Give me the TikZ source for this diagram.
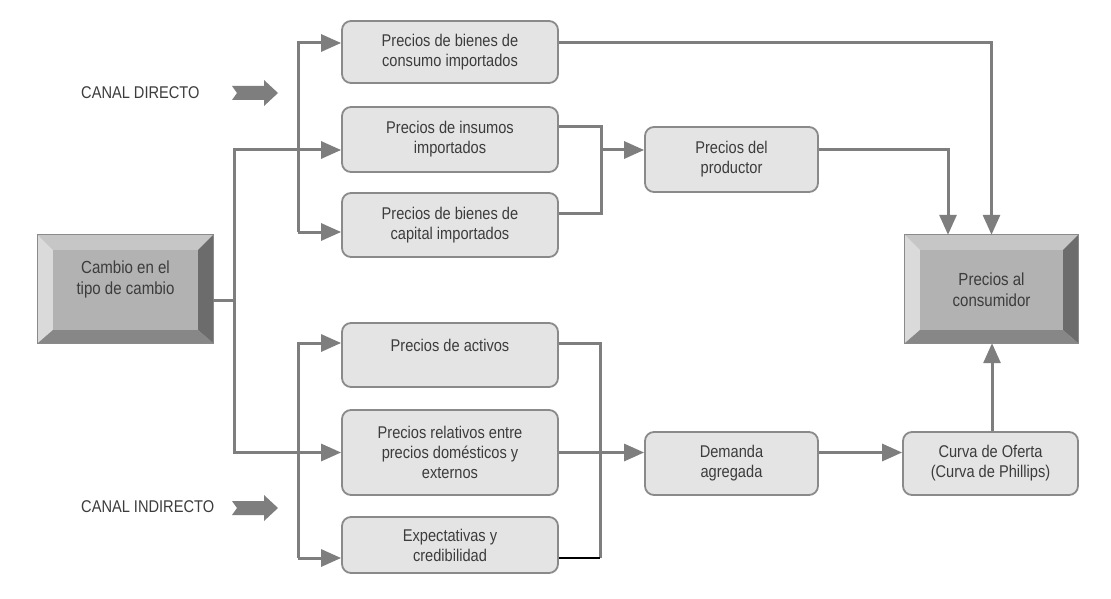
\documentclass[tikz,border=0pt]{standalone}
\usepackage{fontspec}
\setmainfont{Liberation Sans}[FakeStretch=0.86]
\usetikzlibrary{arrows.meta,calc}
\definecolor{lineg}{HTML}{7E7E7E}
\definecolor{boxfill}{HTML}{E4E4E4}
\definecolor{boxline}{HTML}{8A8A8A}
\definecolor{txt}{HTML}{3C3C3C}
\definecolor{bface}{HTML}{B2B2B2}
\definecolor{btop}{HTML}{C6C6C6}
\definecolor{bleft}{HTML}{DADADA}
\definecolor{bright}{HTML}{6C6C6C}
\definecolor{bbottom}{HTML}{878787}
\newcommand\bevelframe[1]{%
  \fill[btop] (#1.north west) -- (#1.north east) -- ($(#1.north east)+(-15,15)$) -- ($(#1.north west)+(15,15)$) -- cycle;
  \fill[bleft] (#1.north west) -- ($(#1.north west)+(15,15)$) -- ($(#1.south west)+(15,-13)$) -- (#1.south west) -- cycle;
  \fill[bright] (#1.north east) -- (#1.south east) -- ($(#1.south east)+(-15,-13)$) -- ($(#1.north east)+(-15,15)$) -- cycle;
  \fill[bbottom] (#1.south west) -- (#1.south east) -- ($(#1.south east)+(-15,-13)$) -- ($(#1.south west)+(15,-13)$) -- cycle;
  \draw[boxline,line width=0.8pt] (#1.north west) rectangle (#1.south east);
}
\newcommand\fatarrow[1]{%
  \fill[lineg] ($(#1)+(0,-7)$) -- ++(32,0) -- ++(0,-6) -- ++(14,13) -- ++(-14,13) -- ++(0,-6) -- ++(-32,0) -- ++(5,-7) -- cycle;
}
\begin{document}
\begin{tikzpicture}[x=1pt,y=-1pt,
  >={Triangle[length=20pt,width=17pt]},
  rbox/.style={draw=boxline,fill=boxfill,rounded corners=9pt,line width=1.8pt,
    align=center,text=txt,font=\fontsize{17}{20}\selectfont,inner sep=0pt},
  bbox/.style={fill=bface,align=center,text=txt,font=\fontsize{17.5}{21}\selectfont,
    inner sep=0pt,minimum width=175pt,minimum height=108pt},
  conn/.style={draw=lineg,line width=3pt},
  lbl/.style={text=txt,font=\fontsize{17}{20}\selectfont,inner sep=0pt}]
\useasboundingbox[fill=white] (0,0) rectangle (1111,599);

% beveled boxes
\node[bbox] (cambio) at (125.5,289) {};
\bevelframe{cambio}
\node[bbox,fill=none,minimum width=0pt,minimum height=0pt] (cambiot) at (125.5,279) {Cambio en el\\tipo de cambio};
\node[bbox,minimum width=173pt] (cons) at (991.5,289) {};
\bevelframe{cons}
\node[bbox,fill=none,minimum width=0pt,minimum height=0pt] (const) at (991.5,290) {Precios al\\consumidor};

% rounded boxes
\node[rbox,minimum width=216pt,minimum height=62pt] (b1) at (450,52) {Precios de bienes de\\consumo importados};
\node[rbox,minimum width=216pt,minimum height=65pt] (b2) at (450,139.5) {Precios de insumos\\importados};
\node[rbox,minimum width=216pt,minimum height=64pt] (b3) at (450,225) {Precios de bienes de\\capital importados};
\node[rbox,minimum width=173pt,minimum height=65pt] (prod) at (731.5,159.5) {Precios del\\productor};
\node[rbox,minimum width=216pt,minimum height=64pt] (b4) at (450,355) {Precios de activos\\\mbox{}};
\node[rbox,minimum width=216pt,minimum height=85pt] (b5) at (450,452.5) {Precios relativos entre\\precios domésticos y\\externos};
\node[rbox,minimum width=216pt,minimum height=56pt] (b6) at (450,545) {Expectativas y\\credibilidad};
\node[rbox,minimum width=173pt,minimum height=63pt] (dem) at (731.5,463.5) {Demanda\\agregada};
\node[rbox,minimum width=175pt,minimum height=63pt] (curva) at (990.5,463.5) {Curva de Oferta\\(Curva de Phillips)};

% channel labels
\node[lbl,anchor=west] (cd) at (81,93) {CANAL DIRECTO};
\coordinate (cda) at (232,93);
\fatarrow{cda}
\node[lbl,anchor=west] (ci) at (81,507) {CANAL INDIRECTO};
\coordinate (cia) at (232,508);
\fatarrow{cia}

% coordinates
\coordinate (busD) at (298,0);
\coordinate (busS) at (234,0);
\coordinate (mx) at (601,0);
\coordinate (mx2) at (600,0);
\coordinate (b1in) at ($(b1.west)+(0,-9)$);
\coordinate (b1out) at ($(b1.east)+(0,-9)$);
\coordinate (b2in) at ($(b2.west)+(0,10.5)$);
\coordinate (b2out) at ($(b2.east)+(0,-12.5)$);
\coordinate (b3in) at ($(b3.west)+(0,7)$);
\coordinate (b3out) at ($(b3.east)+(0,-12)$);
\coordinate (prodin) at ($(prod.west)+(0,-9.5)$);
\coordinate (prodout) at ($(prod.east)+(0,-9.5)$);
\coordinate (b4in) at ($(b4.west)+(0,-12)$);
\coordinate (b4out) at ($(b4.east)+(0,-12)$);
\coordinate (b6in) at ($(b6.west)+(0,13)$);
\coordinate (b6out) at ($(b6.east)+(0,13)$);
\coordinate (cambout) at ($(cambio.east)+(0,11)$);
\coordinate (demout) at ($(dem.east)+(0,-11)$);
\coordinate (curvin) at ($(curva.west)+(0,-11)$);

% connectors from cambio
\draw[conn] (cambout) -- (busS |- cambout);
\draw[conn,->] (busS |- cambout) |- (b2in);
\draw[conn,->] (busS |- cambout) |- (b5.west);

% direct channel bus
\draw[conn,->] (busD |- b3in) -- (busD |- b1in) -- (b1in);
\draw[conn,->] (busD |- b3in) -- (b3in);

% indirect channel bus
\draw[conn,->] (busD |- b6in) -- (busD |- b4in) -- (b4in);
\draw[conn,->] (busD |- b6in) -- (b6in);

% upper right
\draw[conn,->] (b1out) -| (cons.north);
\draw[conn] (b2out) -| (mx |- b3out) -- (b3out);
\draw[conn,->] (mx |- prodin) -- (prodin);
\draw[conn,->] (prodout) -| ($(cons.north)+(-43.5,0)$);

% lower right
\draw[conn] (b4out) -| (mx2 |- b6out);
\draw[black,line width=1.8pt] (mx2 |- b6out) -- (b6out);
\draw[conn,->] (b5.east) -- (b5.east -| dem.west);
\draw[conn,->] (demout) -- (curvin);
\draw[conn,->] ($(curva.north)+(1.5,0)$) -- ($(cons.south)+(0.5,0)$);
\end{tikzpicture}
\end{document}
